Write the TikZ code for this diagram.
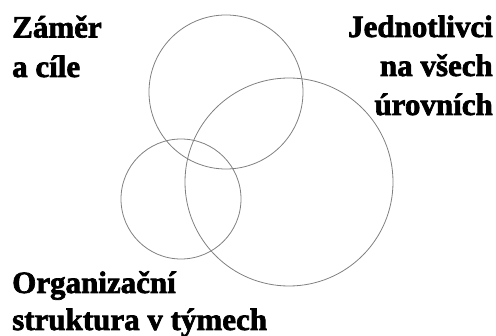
\documentclass[tikz,border=0pt]{standalone}
\usepackage{fontspec}
\setmainfont{Liberation Serif}
\newfontfamily\lblfont{Liberation Serif}[BoldFeatures={FakeBold=2.2}]
\begin{document}
\begin{tikzpicture}[x=1pt,y=-1pt,
  ring/.style={draw=black!50,line width=0.8pt},
  lbl/.style={inner sep=0pt,font=\lblfont\fontsize{31}{36}\selectfont\bfseries}]
\useasboundingbox (0,0) rectangle (496,336);
\draw[ring] (226,92) circle[radius=77];
\draw[ring] (289,182) circle[radius=104];
\draw[ring] (181,199) circle[radius=60];
\node[lbl,anchor=base west] (z1) at (12,37.5) {Záměr};
\node[lbl,anchor=base west] (z2) at (12,77) {a cíle};
\node[lbl,anchor=base east] (j1) at (493,37) {Jednotlivci};
\node[lbl,anchor=base east] (j2) at (493,76) {na všech};
\node[lbl,anchor=base east] (j3) at (493,115) {úrovních};
\node[lbl,anchor=base west] (o1) at (12,293) {Organizační};
\node[lbl,anchor=base west] (o2) at (12,330) {struktura v týmech};
\end{tikzpicture}
\end{document}
